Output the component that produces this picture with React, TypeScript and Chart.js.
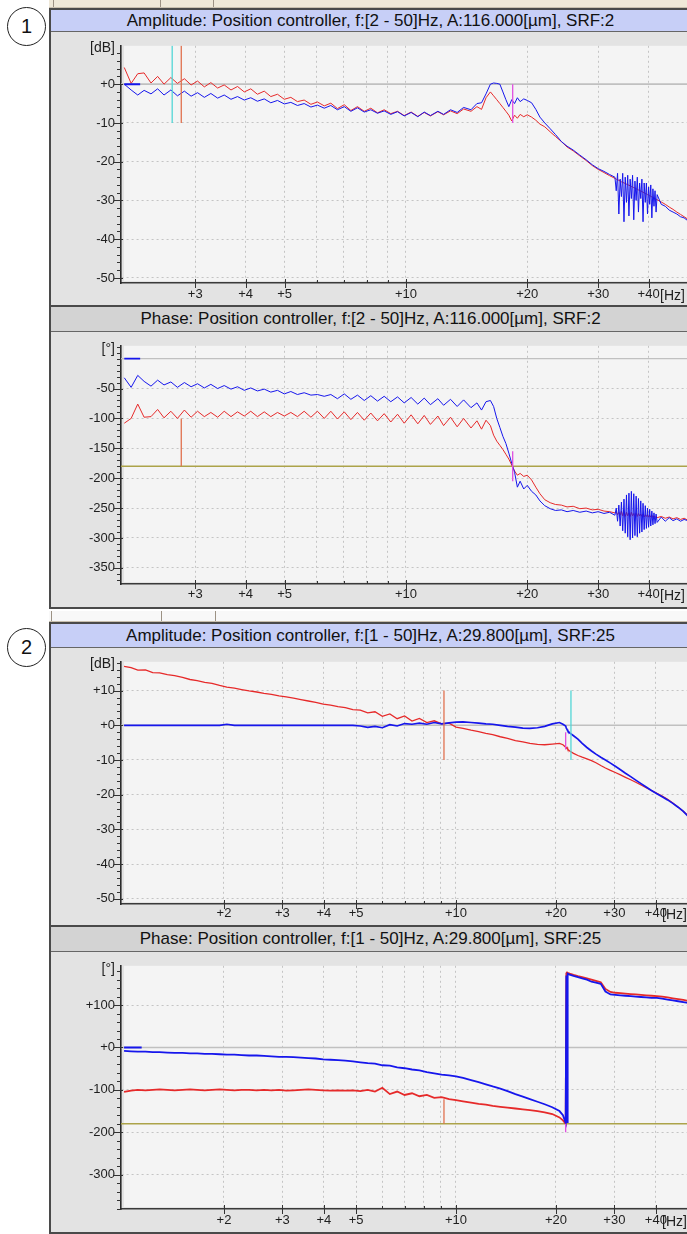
import React, { useEffect, useRef } from "react";
import { Chart, registerables } from "chart.js";

Chart.register(...registerables);

const FONT = '"Liberation Sans", Arial, Helvetica, sans-serif';

// ---------------- Figure 1 data (f: 2 - 50 Hz) ----------------
const freq1 = [
  2.0, 2.08, 2.16, 2.24, 2.33, 2.42, 2.51, 2.61, 2.71, 2.82,
  2.93, 3.04, 3.16, 3.28, 3.41, 3.54, 3.68, 3.82, 3.97, 4.12,
  4.28, 4.45, 4.62, 4.8, 4.99, 5.18, 5.38, 5.59, 5.81, 6.03,
  6.27, 6.51, 6.76, 7.03, 7.3, 7.58, 7.88, 8.18, 8.5, 8.83,
  9.17, 9.53, 9.9, 10.3, 10.7, 11.1, 11.5, 12.0, 12.4, 12.9,
  13.4, 13.9, 14.5, 15.0, 15.4, 15.8, 16.2, 16.5, 16.8, 17.1,
  17.4, 17.7, 18.0, 18.3, 18.6, 18.9, 19.2, 19.6, 20.0, 20.5,
  21.0, 21.5, 22.1, 22.8, 23.5, 24.3, 25.1, 26.0, 27.0, 28.0,
  29.0, 30.0, 31.0, 32.0, 33.0, 33.25, 33.5, 33.75, 34.0, 34.25,
  34.5, 34.75, 35.0, 35.25, 35.5, 35.75, 36.0, 36.25, 36.5, 36.75,
  37.0, 37.25, 37.5, 37.75, 38.0, 38.25, 38.5, 38.75, 39.0, 39.25,
  39.5, 39.75, 40.0, 40.25, 40.5, 40.75, 41.0, 41.25, 41.5, 41.75,
  42.0, 43.0, 44.0, 45.0, 46.0, 47.0, 48.0, 49.0, 50.0,
];
const amp1Red = [
  4.3, 0.2, 2.7, 2.9, 0.3, 2.0, 0.0, 1.7, 0.2, 1.4,
  -0.2, 0.8, -0.7, 0.4, -1.0, -0.2, -1.5, -0.6, -2.0, -1.2,
  -2.6, -1.8, -3.2, -2.6, -3.9, -3.4, -4.5, -4.1, -5.2, -4.6,
  -5.6, -4.9, -6.3, -5.3, -6.8, -5.8, -7.0, -6.2, -7.4, -6.6,
  -7.6, -7.0, -8.1, -7.2, -8.3, -7.3, -8.2, -7.1, -7.9, -6.9,
  -7.6, -6.4, -7.0, -5.8, -6.5, -3.5, -2.0, -3.0, -4.0, -5.0,
  -6.0, -7.0, -8.0, -9.5, -8.0, -8.8, -7.8, -8.4, -7.9, -8.5,
  -9.3, -10.3, -11.0, -12.3, -13.5, -14.8, -16.2, -17.2, -18.5, -19.7,
  -21.0, -22.0, -22.8, -23.6, -24.3, -24.5, -24.7, -24.8, -25.0, -25.2,
  -25.3, -25.5, -25.6, -25.8, -25.9, -26.1, -26.2, -26.4, -26.5, -26.7,
  -26.8, -27.0, -27.1, -27.3, -27.4, -27.6, -27.7, -27.9, -28.0, -28.2,
  -28.3, -28.5, -28.6, -28.8, -28.9, -29.1, -29.2, -29.4, -29.5, -29.7,
  -29.8, -30.4, -31.0, -31.7, -32.3, -33.0, -33.6, -34.2, -34.8,
];
const amp1Blue = [
  0.0, -1.5, -2.8, -1.6, -2.5, -1.2, -2.8, -1.5, -3.0, -1.8,
  -3.1, -2.2, -3.4, -2.4, -3.6, -2.8, -3.9, -3.2, -4.1, -3.5,
  -4.4, -3.8, -4.8, -4.2, -5.1, -4.7, -5.5, -5.0, -5.9, -5.4,
  -6.2, -5.5, -6.6, -5.8, -7.0, -6.1, -7.2, -6.6, -7.5, -6.9,
  -7.8, -7.1, -8.2, -7.3, -8.4, -7.2, -8.1, -7.0, -7.8, -6.6,
  -7.3, -6.0, -6.6, -5.0, -4.8, -2.5, 0.0, 0.3, 0.2, 0.0,
  -2.0, -4.0, -5.8, -4.0, -5.0, -3.5, -4.5, -3.8, -4.2, -4.8,
  -6.5, -8.5, -10.0, -11.5, -13.0, -14.8, -16.0, -17.0, -18.3, -19.5,
  -20.8, -21.8, -22.5, -23.3, -24.0, -27.5, -23.0, -33.5, -24.5, -29.0,
  -23.0, -35.5, -24.0, -30.5, -23.5, -34.0, -24.5, -29.5, -23.5, -35.0,
  -25.0, -30.0, -24.0, -33.0, -25.5, -29.5, -24.5, -35.5, -25.5, -30.5,
  -25.5, -33.5, -26.5, -31.0, -26.0, -34.5, -27.0, -31.5, -27.5, -33.0,
  -28.5, -31.0, -31.5, -32.5, -33.0, -33.5, -34.2, -34.5, -35.2,
];
const phase1Red = [
  -108, -100, -76, -98, -97, -85, -99, -88, -100, -86,
  -98, -88, -97, -90, -98, -88, -97, -89, -96, -88,
  -97, -89, -97, -90, -96, -90, -97, -88, -98, -88,
  -100, -88, -101, -89, -102, -90, -103, -91, -104, -92,
  -106, -93, -108, -94, -109, -95, -110, -96, -112, -98,
  -114, -100, -116, -104, -118, -103, -112, -128, -138, -145,
  -152, -160, -168, -178, -188, -195, -192, -197, -195, -203,
  -215, -226, -236, -241, -244, -245, -248, -247, -251, -250,
  -253, -252, -255, -256, -258, -256, -261, -257, -262, -255,
  -263, -256, -264, -257, -263, -258, -264, -257, -263, -259,
  -264, -258, -264, -259, -263, -260, -264, -260, -265, -261,
  -264, -261, -265, -262, -265, -262, -266, -263, -266, -264,
  -266, -264, -267, -265, -268, -266, -269, -267, -270,
];
const phase1Blue = [
  -32, -48, -28, -38, -46, -36, -44, -39, -48, -40,
  -47, -42, -49, -43, -50, -45, -51, -47, -53, -49,
  -54, -51, -56, -53, -59, -55, -60, -57, -61, -60,
  -63, -60, -67, -59, -68, -61, -70, -62, -71, -63,
  -72, -64, -74, -65, -76, -66, -77, -67, -78, -68,
  -80, -69, -82, -74, -86, -72, -70, -80, -100, -115,
  -130, -142, -158, -175, -190, -215, -205, -218, -212, -222,
  -228, -238, -246, -251, -254, -253, -256, -254, -257, -255,
  -258, -256, -259, -257, -262, -250, -272, -245, -280, -240,
  -288, -235, -292, -228, -298, -225, -303, -222, -300, -226,
  -296, -230, -298, -234, -292, -238, -290, -242, -286, -246,
  -284, -250, -282, -252, -280, -255, -278, -258, -276, -260,
  -274, -265, -272, -266, -271, -268, -272, -269, -271,
];

// ---------------- Figure 2 data (f: 1 - 50 Hz) ----------------
const freq2 = [
  1.0, 1.05, 1.1, 1.16, 1.22, 1.28, 1.35, 1.42, 1.5, 1.58,
  1.66, 1.75, 1.84, 1.94, 2.04, 2.15, 2.26, 2.38, 2.51, 2.64,
  2.78, 2.93, 3.08, 3.24, 3.41, 3.59, 3.78, 3.98, 4.19, 4.41,
  4.64, 4.89, 5.15, 5.42, 5.7, 6.0, 6.32, 6.65, 7.0, 7.37,
  7.76, 8.17, 8.6, 9.05, 9.53, 10.0, 10.5, 11.1, 11.7, 12.3,
  12.9, 13.6, 14.3, 15.1, 15.9, 16.7, 17.6, 18.5, 19.5, 20.5,
  21.0, 21.4, 21.5, 21.6, 21.7, 22.0, 22.6, 23.3, 24.0, 24.8,
  25.6, 26.4, 27.3, 28.2, 29.2, 30.2, 31.3, 32.4, 33.6, 34.8,
  36.1, 37.4, 38.8, 40.3, 41.8, 43.4, 45.0, 46.7, 48.4, 50.0,
];
const amp2Red = [
  17.0, 16.6, 15.9, 16.0, 15.2, 15.1, 14.6, 14.3, 13.8, 13.2,
  12.9, 12.4, 12.1, 11.5, 11.0, 10.7, 10.3, 9.9, 9.6, 9.2,
  8.9, 8.5, 8.2, 7.8, 7.4, 7.0, 6.6, 6.1, 5.8, 5.4,
  5.1, 4.5, 4.4, 3.6, 3.9, 2.6, 3.3, 1.9, 2.7, 1.2,
  2.0, 0.8, 1.3, 0.4, 0.6, -0.5, -0.9, -1.4, -1.8, -2.3,
  -2.7, -3.3, -3.8, -4.4, -4.8, -5.2, -5.5, -5.6, -5.4, -5.2,
  -5.6, -6.3, -6.6, -6.4, -6.9, -7.4, -8.1, -8.7, -9.2, -9.7,
  -10.2, -10.8, -11.6, -12.3, -13.0, -13.6, -14.3, -15.0, -15.7, -16.4,
  -17.2, -18.0, -18.8, -19.6, -20.4, -21.3, -22.4, -23.6, -24.8, -26.0,
];
const amp2Blue = [
  0, 0, 0, 0, 0, 0, 0, 0, 0, 0,
  0, 0, 0, 0, 0.3, 0, 0, 0, 0, 0,
  0, 0, 0, 0, 0, 0, 0, 0, 0, 0,
  0, 0, -0.2, -0.6, -0.3, -0.7, 0.2, -0.2, 0.5, 0.3,
  0.6, 0.3, 0.8, 0.4, 0.7, 0.9, 1.0, 0.8, 0.6, 0.4,
  0.3, 0.0, -0.3, -0.5, -0.8, -0.9, -0.7, -0.3, 0.4, 0.8,
  0.3, -0.2, -0.8, -1.2, -1.6, -2.2, -3.0, -4.0, -5.2, -6.4,
  -7.4, -8.3, -9.2, -10.0, -10.9, -11.8, -12.8, -13.8, -14.8, -15.8,
  -16.8, -17.8, -18.8, -19.7, -20.6, -21.5, -22.5, -23.6, -24.8, -26.2,
];
const phase2Red = [
  -105, -102, -100, -101, -100, -99, -100, -101, -100, -99,
  -100, -101, -100, -99, -100, -101, -100, -100, -101, -100,
  -101, -100, -102, -101, -100, -99, -100, -101, -102, -101,
  -102, -101, -103, -100, -104, -95, -110, -104, -112, -108,
  -115, -112, -119, -117, -122, -124, -127, -130, -133, -135,
  -138, -140, -142, -144, -146, -148, -150, -153, -157, -165,
  -172, -180, 175, 177, 176, 174, 171, 168, 166, 163,
  160, 157, 154, 138, 131, 129, 128, 127, 126, 125,
  124, 123, 122, 121, 120, 118, 116, 114, 112, 110,
];
const phase2Blue = [
  -8, -9, -10, -10, -11, -11, -12, -13, -13, -14,
  -14, -15, -15, -16, -17, -17, -18, -19, -19, -20,
  -21, -22, -22, -23, -24, -25, -26, -28, -29, -30,
  -31, -33, -35, -37, -38, -42, -43, -47, -49, -52,
  -54, -58, -61, -64, -66, -68, -72, -77, -82, -87,
  -92, -97, -103, -110, -116, -122, -128, -134, -141, -150,
  -160, -178, 170, -176, 174, 172, 169, 166, 163, 160,
  155, 153, 150, 132, 125, 124, 123, 122, 121, 120,
  119, 118, 117, 117, 115, 113, 111, 109, 107, 105,
];

// short blue start segments at 0
const startSeg1Freq = [2.0, 2.19];
const startSeg2Freq = [1.0, 1.13];

// cursor / marker lines
const amp1MarkerFreq = [2.63, 2.77, 18.4];
const amp1MarkerTop = [10, 10, 0];
const amp1MarkerBottom = [-10, -10, -10];
const amp1MarkerKind = ["cyan", "orange", "magenta"];

const phase1MarkerFreq = [2.77, 18.4];
const phase1MarkerTop = [-100, -155];
const phase1MarkerBottom = [-180, -205];
const phase1MarkerKind = ["orange", "magenta"];

const amp2MarkerFreq = [9.2, 22.2, 21.4];
const amp2MarkerTop = [10, 10, -2];
const amp2MarkerBottom = [-10, -10, -7];
const amp2MarkerKind = ["orange", "cyan", "magenta"];

const phase2MarkerFreq = [9.2, 21.4];
const phase2MarkerTop = [-122, -180];
const phase2MarkerBottom = [-180, -200];
const phase2MarkerKind = ["orange", "magenta"];

// reference levels
const zeroLevel = 0;
const phaseLimit = -180;

// axis ticks
const xTicks1 = [3, 4, 5, 6, 7, 8, 9, 10, 20, 30, 40];
const xLabels1 = [3, 4, 5, 10, 20, 30, 40];
const xTicks2 = [2, 3, 4, 5, 6, 7, 8, 9, 10, 20, 30, 40];
const xLabels2 = [2, 3, 4, 5, 10, 20, 30, 40];
const amp1YLabels = [-50, -40, -30, -20, -10, 0];
const phase1YLabels = [-350, -300, -250, -200, -150, -100, -50];
const amp2YLabels = [-50, -40, -30, -20, -10, 0, 10];
const phase2YLabels = [-300, -200, -100, 0, 100];

const titles = {
  amp1: "Amplitude: Position controller, f:[2 - 50]Hz, A:116.000[µm], SRF:2",
  phase1: "Phase: Position controller, f:[2 - 50]Hz, A:116.000[µm], SRF:2",
  amp2: "Amplitude: Position controller, f:[1 - 50]Hz, A:29.800[µm], SRF:25",
  phase2: "Phase: Position controller, f:[1 - 50]Hz, A:29.800[µm], SRF:25",
};

// ---------------- styles ----------------
const C = {
  red: "#e62a2a",
  blue: "#1616ec",
  cyan: "#52d6d6",
  orange: "#e0704e",
  magenta: "#e050e0",
  zero: "#c0c0c0",
  olive: "#aca34a",
  grid: "#c4c4c4",
  plotBg: "#f4f4f4",
  panelBg: "#e3e3e3",
  frame: "#4a4a4a",
  ampBar: "#c7cff7",
  phaseBar: "#d3d3d3",
  text: "#1e1e1e",
};
const markerColor: Record<string, string> = { cyan: C.cyan, orange: C.orange, magenta: C.magenta };

type Series = { xs: number[]; ys: number[]; color: string; width: number; order: number };
type PlotCfg = {
  top: number;
  height: number;
  xAxisH: number;
  labelPad: number;
  xMin: number;
  xMax: number;
  yMin: number;
  yMax: number;
  xTicks: number[];
  xLabels: number[];
  yLabels: number[];
  yMinor: number;
  series: Series[];
};

function markers(fs: number[], tops: number[], bottoms: number[], kinds: string[]): Series[] {
  return fs.map((f, i) => ({
    xs: [f, f],
    ys: [tops[i], bottoms[i]],
    color: markerColor[kinds[i]],
    width: 1.3,
    order: 0,
  }));
}
function hline(xMin: number, xMax: number, y: number, color: string, width: number): Series {
  return { xs: [xMin, xMax], ys: [y, y], color, width, order: 10 };
}

const X1 = { min: 1.963, max: 50.1 };
const X2 = { min: 0.979, max: 50.0 };

const amp1Cfg: PlotCfg = {
  top: 32, height: 271, xAxisH: 20, labelPad: 4,
  xMin: X1.min, xMax: X1.max, yMin: -51.3, yMax: 9.9,
  xTicks: xTicks1, xLabels: xLabels1, yLabels: amp1YLabels, yMinor: 2,
  series: [
    hline(X1.min, X1.max, zeroLevel, C.zero, 1.6),
    { xs: freq1, ys: amp1Red, color: C.red, width: 1, order: 2 },
    { xs: freq1, ys: amp1Blue, color: C.blue, width: 1, order: 1 },
    { xs: startSeg1Freq, ys: [zeroLevel, zeroLevel], color: C.blue, width: 2, order: 1 },
    ...markers(amp1MarkerFreq, amp1MarkerTop, amp1MarkerBottom, amp1MarkerKind),
  ],
};
const phase1Cfg: PlotCfg = {
  top: 332, height: 276, xAxisH: 24, labelPad: 3,
  xMin: X1.min, xMax: X1.max, yMin: -377, yMax: 21.5,
  xTicks: xTicks1, xLabels: xLabels1, yLabels: phase1YLabels, yMinor: 10,
  series: [
    hline(X1.min, X1.max, zeroLevel, C.zero, 1.4),
    hline(X1.min, X1.max, phaseLimit, C.olive, 1.6),
    { xs: freq1, ys: phase1Red, color: C.red, width: 1, order: 2 },
    { xs: freq1, ys: phase1Blue, color: C.blue, width: 1, order: 1 },
    { xs: startSeg1Freq, ys: [zeroLevel, zeroLevel], color: C.blue, width: 1.6, order: 1 },
    ...markers(phase1MarkerFreq, phase1MarkerTop, phase1MarkerBottom, phase1MarkerKind),
  ],
};
const amp2Cfg: PlotCfg = {
  top: 648, height: 277, xAxisH: 21, labelPad: 2,
  xMin: X2.min, xMax: X2.max, yMin: -51.5, yMax: 18.3,
  xTicks: xTicks2, xLabels: xLabels2, yLabels: amp2YLabels, yMinor: 2,
  series: [
    hline(X2.min, X2.max, zeroLevel, C.zero, 1.6),
    { xs: freq2, ys: amp2Red, color: C.red, width: 1.3, order: 2 },
    { xs: freq2, ys: amp2Blue, color: C.blue, width: 1.7, order: 1 },
    ...markers(amp2MarkerFreq, amp2MarkerTop, amp2MarkerBottom, amp2MarkerKind),
  ],
};
const phase2Cfg: PlotCfg = {
  top: 952, height: 280, xAxisH: 23, labelPad: 4,
  xMin: X2.min, xMax: X2.max, yMin: -381, yMax: 192.6,
  xTicks: xTicks2, xLabels: xLabels2, yLabels: phase2YLabels, yMinor: 20,
  series: [
    hline(X2.min, X2.max, zeroLevel, C.zero, 1.4),
    hline(X2.min, X2.max, phaseLimit, C.olive, 1.6),
    { xs: freq2, ys: phase2Red, color: C.red, width: 1.8, order: 2 },
    { xs: freq2, ys: phase2Blue, color: C.blue, width: 1.8, order: 1 },
    { xs: startSeg2Freq, ys: [zeroLevel, zeroLevel], color: C.blue, width: 2, order: 1 },
    ...markers(phase2MarkerFreq, phase2MarkerTop, phase2MarkerBottom, phase2MarkerKind),
  ],
};

const signed = (v: number) => (v >= 0 ? "+" + v : String(v));

function Plot({ cfg }: { cfg: PlotCfg }) {
  const ref = useRef<HTMLCanvasElement | null>(null);
  useEffect(() => {
    const canvas = ref.current;
    if (!canvas) return;
    const datasets = cfg.series.map((s) => ({
      data: s.xs.map((x, i) => ({ x, y: s.ys[i] })),
      borderColor: s.color,
      backgroundColor: s.color,
      borderWidth: s.width,
      pointRadius: 0,
      pointHoverRadius: 0,
      tension: 0,
      fill: false,
      order: s.order,
    }));
    const decor = {
      id: "decor",
      beforeDraw(chart: any) {
        const { ctx, chartArea: a } = chart;
        ctx.save();
        ctx.fillStyle = C.plotBg;
        ctx.fillRect(a.left + 3, a.top, a.right - a.left, a.bottom - a.top - 2);
        ctx.restore();
      },
      afterDraw(chart: any) {
        const { ctx, chartArea: a, scales } = chart;
        const xs = scales.x;
        const ys = scales.y;
        ctx.save();
        ctx.strokeStyle = "#333";
        ctx.lineWidth = 1;
        ctx.beginPath();
        const start = Math.ceil(cfg.yMin / cfg.yMinor);
        for (let k = start; k * cfg.yMinor <= cfg.yMax; k++) {
          const v = k * cfg.yMinor;
          const py = Math.round(ys.getPixelForValue(v)) + 0.5;
          const major = cfg.yLabels.includes(v);
          ctx.moveTo(a.left - (major ? 7 : 4), py);
          ctx.lineTo(a.left + (major ? 2 : 0), py);
        }
        for (const v of cfg.xTicks) {
          const px = Math.round(xs.getPixelForValue(v)) + 0.5;
          const major = cfg.xLabels.includes(v);
          ctx.moveTo(px, a.bottom - (major ? 4 : 3));
          ctx.lineTo(px, a.bottom + (major ? 5 : 0));
        }
        ctx.stroke();
        ctx.restore();
      },
    };
    const tickFont = { family: FONT, size: 13 };
    const chart = new Chart(canvas, {
      type: "line",
      data: { datasets } as any,
      options: {
        animation: false,
        responsive: false,
        devicePixelRatio: 1,
        events: [],
        layout: { padding: { left: 0, right: 2, top: 0, bottom: 0 } },
        plugins: { legend: { display: false }, tooltip: { enabled: false }, title: { display: false } },
        scales: {
          x: {
            type: "logarithmic",
            position: "bottom",
            bounds: "data",
            min: cfg.xMin,
            max: cfg.xMax,
            afterBuildTicks: (s: any) => {
              s.ticks = cfg.xTicks.map((v) => ({ value: v }));
            },
            afterFit: (s: any) => {
              s.height = cfg.xAxisH;
            },
            ticks: {
              autoSkip: false,
              maxRotation: 0,
              minRotation: 0,
              padding: cfg.labelPad,
              color: C.text,
              font: tickFont,
              callback: (v: any) => (cfg.xLabels.includes(Number(v)) ? "+" + v : ""),
            },
            grid: { color: C.grid, lineWidth: 1, drawTicks: false },
            border: { display: true, color: "#3a3a3a", width: 1.6, dash: [2, 3] },
          },
          y: {
            type: "linear",
            position: "left",
            bounds: "data",
            min: cfg.yMin,
            max: cfg.yMax,
            afterBuildTicks: (s: any) => {
              s.ticks = cfg.yLabels.map((v) => ({ value: v }));
            },
            afterFit: (s: any) => {
              s.width = 70;
            },
            ticks: {
              autoSkip: false,
              padding: 6,
              color: C.text,
              font: tickFont,
              callback: (v: any) => signed(Number(v)),
            },
            grid: { color: C.grid, lineWidth: 1, drawTicks: false },
            border: { display: true, color: "#2a2a2a", width: 1.6, dash: [2, 3] },
          },
        },
      } as any,
      plugins: [decor],
    });
    return () => chart.destroy();
  }, []);
  return (
    <canvas
      ref={ref}
      width={639}
      height={cfg.height}
      style={{ position: "absolute", left: 51, top: cfg.top, width: 639, height: cfg.height }}
    />
  );
}

function Bar({ top, height, bg, text, topBorder }: { top: number; height: number; bg: string; text: string; topBorder?: boolean }) {
  return (
    <div
      style={{
        position: "absolute",
        left: 51,
        top,
        width: 639,
        height,
        background: bg,
        borderTop: topBorder ? `2px solid ${C.frame}` : "none",
        borderBottom: "1px solid #666",
        boxSizing: "border-box",
        color: "#111",
        fontSize: 17,
        lineHeight: `${height - (topBorder ? 3 : 1)}px`,
        textAlign: "center",
        whiteSpace: "nowrap",
      }}
    >
      {text}
    </div>
  );
}

function Txt({ left, cy, width, text, align, size }: { left: number; cy: number; width: number; text: string; align: "left" | "right"; size: number }) {
  return (
    <div
      style={{
        position: "absolute",
        left,
        top: cy - 9,
        width,
        height: 18,
        lineHeight: "18px",
        fontSize: size,
        textAlign: align,
        color: C.text,
        whiteSpace: "nowrap",
      }}
    >
      {text}
    </div>
  );
}

function Circle({ top, n }: { top: number; n: string }) {
  return (
    <div
      style={{
        position: "absolute",
        left: 7,
        top,
        width: 39,
        height: 39,
        borderRadius: "50%",
        border: "1.5px solid #222",
        boxSizing: "border-box",
        textAlign: "center",
        lineHeight: "36px",
        fontSize: 20,
        color: "#111",
        background: "#fff",
      }}
    >
      {n}
    </div>
  );
}

function Strip({ top, height, bg, marks }: { top: number; height: number; bg: string; marks: number[] }) {
  return (
    <div style={{ position: "absolute", left: 49, top, width: 640, height, background: bg, borderBottom: "1px solid #c8bfae" }}>
      {marks.map((m, i) => (
        <div key={i} style={{ position: "absolute", left: m - 49, top: 0, width: 1, height, background: "#9c9284" }} />
      ))}
    </div>
  );
}

export default function App() {
  return (
    <div
      style={{
        position: "absolute",
        left: 0,
        top: 0,
        width: 687,
        height: 1234,
        overflow: "hidden",
        background: "#fff",
        fontFamily: FONT,
      }}
    >
      {/* ---------- Figure 1 ---------- */}
      <Strip top={0} height={7} bg="#efe8d8" marks={[53, 160, 213]} />
      <Circle top={7} n="1" />
      <div
        style={{
          position: "absolute",
          left: 49,
          top: 8,
          width: 660,
          height: 601,
          border: `2px solid ${C.frame}`,
          boxSizing: "border-box",
          background: C.panelBg,
        }}
      />
      <Bar top={10} height={22} bg={C.ampBar} text={titles.amp1} />
      <Bar top={305} height={27} bg={C.phaseBar} text={titles.phase1} topBorder />
      <Plot cfg={amp1Cfg} />
      <Plot cfg={phase1Cfg} />
      <Txt left={55} cy={47} width={60} text="[dB]" align="right" size={14} />
      <Txt left={55} cy={348} width={60} text="[°]" align="right" size={14} />
      <Txt left={660} cy={295} width={40} text="[Hz]" align="left" size={14} />
      <Txt left={660} cy={595} width={40} text="[Hz]" align="left" size={14} />

      {/* ---------- Figure 2 ---------- */}
      <Strip top={611} height={10} bg="#f8f8f8" marks={[51, 161, 215]} />
      <Circle top={628} n="2" />
      <div
        style={{
          position: "absolute",
          left: 49,
          top: 622,
          width: 660,
          height: 612,
          border: `2px solid ${C.frame}`,
          boxSizing: "border-box",
          background: C.panelBg,
        }}
      />
      <Bar top={624} height={24} bg={C.ampBar} text={titles.amp2} />
      <Bar top={925} height={27} bg={C.phaseBar} text={titles.phase2} topBorder />
      <Plot cfg={amp2Cfg} />
      <Plot cfg={phase2Cfg} />
      <Txt left={55} cy={663} width={60} text="[dB]" align="right" size={14} />
      <Txt left={55} cy={968} width={60} text="[°]" align="right" size={14} />
      <Txt left={662} cy={914} width={40} text="[Hz]" align="left" size={14} />
      <Txt left={662} cy={1221} width={40} text="[Hz]" align="left" size={14} />
    </div>
  );
}
